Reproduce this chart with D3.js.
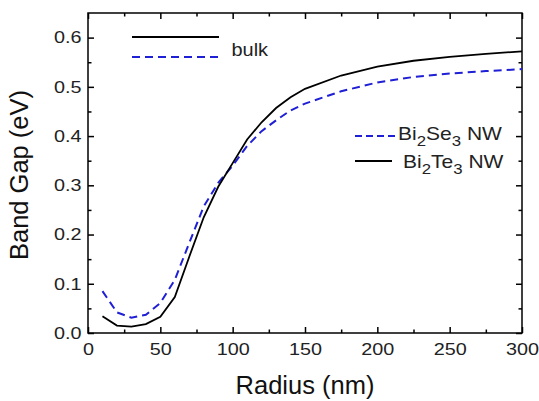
<!DOCTYPE html>
<html>
<head>
<meta charset="utf-8">
<script src="https://cdn.jsdelivr.net/npm/d3@7"></script>
<style>
  body { margin: 0; background: #fff; }
  text { font-family: Arial, "Liberation Sans", sans-serif; }
</style>
</head>
<body>
<div id="chart"></div>
<script>
// data
const radius = [10, 20, 30, 40, 50, 60, 70, 80, 90, 100, 110, 120, 130, 140, 150, 175, 200, 225, 250, 275, 300]
const bi2te3 = [0.034, 0.015, 0.013, 0.018, 0.033, 0.073, 0.155, 0.235, 0.297, 0.345, 0.393, 0.428, 0.457, 0.479, 0.496, 0.523, 0.541, 0.553, 0.561, 0.567, 0.572]
const bi2se3 = [0.085, 0.042, 0.031, 0.037, 0.061, 0.108, 0.183, 0.257, 0.305, 0.340, 0.380, 0.410, 0.432, 0.452, 0.466, 0.491, 0.509, 0.520, 0.527, 0.532, 0.536]
const xTicks = [0, 50, 100, 150, 200, 250, 300]
const yTicks = [0.0, 0.1, 0.2, 0.3, 0.4, 0.5, 0.6]

const blue = "#1f1fd6"

const dimensions = {
  width: 539,
  height: 401,
  margin: { top: 13, right: 17, bottom: 68, left: 88 }
}
dimensions.boundedWidth = dimensions.width - dimensions.margin.left - dimensions.margin.right
dimensions.boundedHeight = dimensions.height - dimensions.margin.top - dimensions.margin.bottom

const wrapper = d3.select("#chart")
  .append("svg")
    .attr("width", dimensions.width)
    .attr("height", dimensions.height)

const bounds = wrapper.append("g")
  .attr("transform", `translate(${dimensions.margin.left},${dimensions.margin.top})`)

// scales
const xScale = d3.scaleLinear()
  .domain([0, 300])
  .range([0, dimensions.boundedWidth])

const yScale = d3.scaleLinear()
  .domain([0, 0.65])
  .range([dimensions.boundedHeight, 0])

// axes, ticks pointing inward
const minorX = d3.range(25, 300, 50)
const minorY = d3.range(0.05, 0.65, 0.1)

function drawAxis(axisGen, transform, values, size, labels) {
  const g = bounds.append("g")
    .attr("transform", transform)
    .call(axisGen.tickValues(values).tickSizeInner(size).tickSizeOuter(0))
  g.select(".domain").remove()
  g.selectAll(".tick line").attr("stroke", "#000").attr("stroke-width", 1.5)
  if (!labels) g.selectAll(".tick text").remove()
  return g
}

const h = dimensions.boundedHeight
const w = dimensions.boundedWidth

// bottom
const xAxis = drawAxis(d3.axisBottom(xScale).tickFormat(d3.format("d")), `translate(0,${h})`, xTicks, -6, true)
xAxis.selectAll(".tick text")
  .attr("y", 0)
  .attr("transform", "translate(0,10) scale(1.2,1)")
  .style("font-size", "16.5px").attr("fill", "#222")
drawAxis(d3.axisBottom(xScale), `translate(0,${h})`, minorX, -3.5, false)
// top
drawAxis(d3.axisTop(xScale), "translate(0,0)", xTicks, -6, false)
drawAxis(d3.axisTop(xScale), "translate(0,0)", minorX, -3.5, false)
// left
const yAxis = drawAxis(d3.axisLeft(yScale).tickFormat(d3.format(".1f")), "translate(0,0)", yTicks, -6, true)
yAxis.selectAll(".tick text")
  .attr("x", 0)
  .attr("transform", "translate(-6.5,0) scale(1.2,1)")
  .style("font-size", "16.5px").attr("fill", "#222")
drawAxis(d3.axisLeft(yScale), "translate(0,0)", minorY, -3.5, false)
// right
drawAxis(d3.axisRight(yScale), `translate(${w},0)`, yTicks, -6, false)
drawAxis(d3.axisRight(yScale), `translate(${w},0)`, minorY, -3.5, false)

// frame
bounds.append("rect")
  .attr("width", w)
  .attr("height", h)
  .attr("fill", "none")
  .attr("stroke", "#000")
  .attr("stroke-width", 1.5)

// lines
const line = d3.line()
  .x((d, i) => xScale(radius[i]))
  .y(d => yScale(d))

bounds.append("path")
  .attr("d", line(bi2se3))
  .attr("fill", "none")
  .attr("stroke", blue)
  .attr("stroke-width", 2)
  .attr("stroke-dasharray", "8,5")

bounds.append("path")
  .attr("d", line(bi2te3))
  .attr("fill", "none")
  .attr("stroke", "#000")
  .attr("stroke-width", 1.8)

// axis titles
wrapper.append("text")
  .attr("x", dimensions.margin.left + w / 2)
  .attr("y", 394)
  .attr("text-anchor", "middle")
  .style("font-size", "25.5px")
  .attr("fill", "#111")
  .text("Radius (nm)")

wrapper.append("text")
  .attr("transform", "translate(28,175) rotate(-90)")
  .attr("text-anchor", "middle")
  .style("font-size", "25.5px")
  .attr("fill", "#111")
  .text("Band Gap (eV)")

// legends
const legend = wrapper.append("g")

legend.append("line")
  .attr("x1", 132).attr("x2", 219).attr("y1", 37).attr("y2", 37)
  .attr("stroke", "#000").attr("stroke-width", 1.8)
legend.append("line")
  .attr("x1", 132).attr("x2", 219).attr("y1", 57).attr("y2", 57)
  .attr("stroke", blue).attr("stroke-width", 2).attr("stroke-dasharray", "8,5")
legend.append("text")
  .attr("transform", "translate(231.5,55.5) scale(1.05,1)")
  .style("font-size", "19px")
  .attr("fill", "#222")
  .text("bulk")

function subLabel(x, y, parts) {
  const t = legend.append("text")
    .attr("transform", `translate(${x},${y}) scale(1.2,1)`)
    .style("font-size", "17.5px")
    .attr("fill", "#222")
  parts.forEach(p => {
    t.append("tspan")
      .attr("dy", p.sub ? 5.5 : (p.back ? -5.5 : 0))
      .style("font-size", p.sub ? "14px" : "17.5px")
      .text(p.t)
  })
}

legend.append("line")
  .attr("x1", 355).attr("x2", 396).attr("y1", 136).attr("y2", 136)
  .attr("stroke", blue).attr("stroke-width", 2).attr("stroke-dasharray", "7,4")
subLabel(398, 140, [
  { t: "Bi" }, { t: "2", sub: true }, { t: "Se", back: true }, { t: "3", sub: true }, { t: " NW", back: true }
])

legend.append("line")
  .attr("x1", 355).attr("x2", 392).attr("y1", 161).attr("y2", 161)
  .attr("stroke", "#000").attr("stroke-width", 1.8)
subLabel(403, 168, [
  { t: "Bi" }, { t: "2", sub: true }, { t: "Te", back: true }, { t: "3", sub: true }, { t: " NW", back: true }
])
</script>
</body>
</html>
